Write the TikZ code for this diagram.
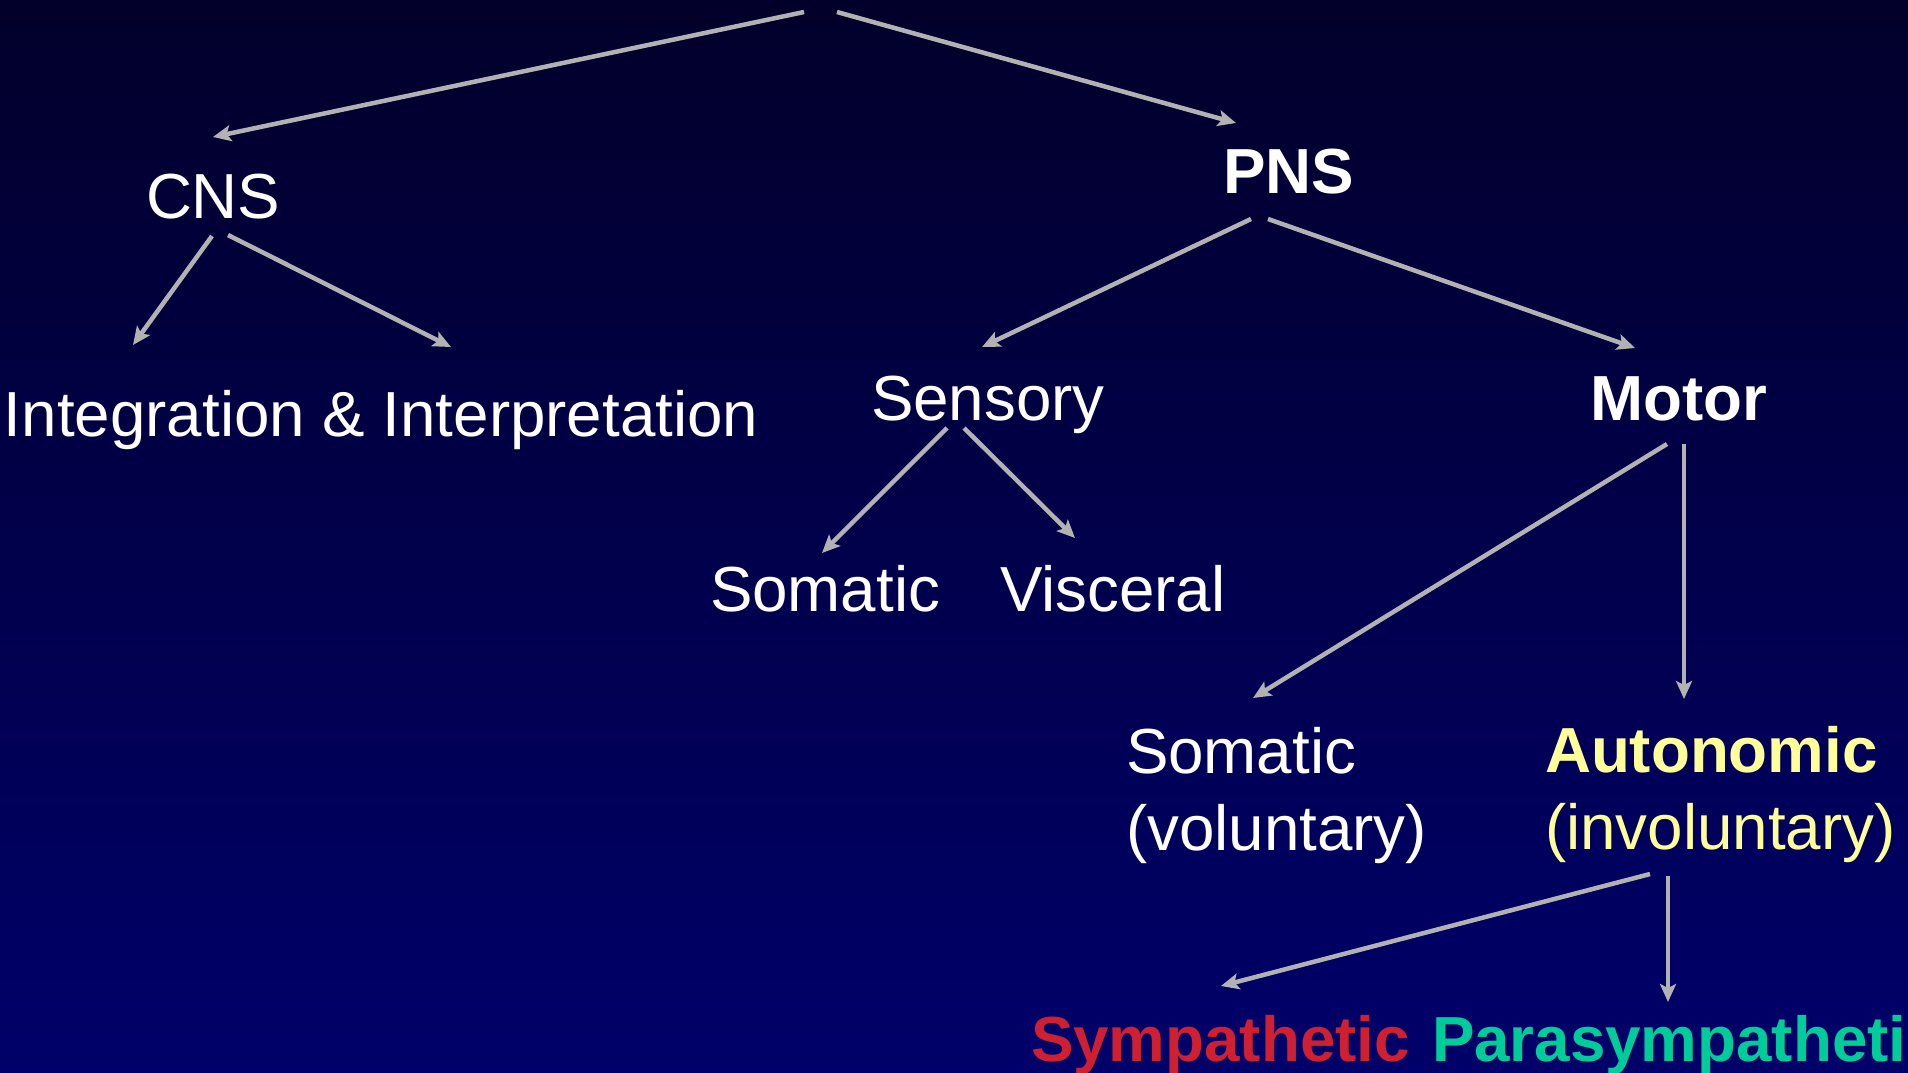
\documentclass[tikz,border=0pt]{standalone}
\usepackage{fontspec}
\setmainfont{Liberation Sans}
\usetikzlibrary{arrows.meta}
\definecolor{bgtop}{RGB}{2,0,42}
\definecolor{bgbot}{RGB}{0,0,106}
\definecolor{arrgray}{RGB}{178,178,178}
\definecolor{autoyellow}{RGB}{255,255,153}
\definecolor{symred}{RGB}{206,32,48}
\definecolor{paragreen}{RGB}{0,204,153}
\tikzset{
  lbl/.style={anchor=base west, inner sep=0pt, outer sep=0pt, text=white, font=\fontsize{63.7}{77}\selectfont},
  lblb/.style={lbl, font=\fontsize{63.7}{77}\selectfont\bfseries},
  two/.style={align=left},
  arr/.style={draw=arrgray, line width=4.5pt, -{Stealth[length=18pt,width=16pt,inset=4pt]}}
}
\begin{document}
\begin{tikzpicture}[x=1pt,y=-1pt]
\useasboundingbox (0,0) rectangle (1908,1072);
\clip (0,0) rectangle (1908,1072);
\shade[top color=bgtop, bottom color=bgbot] (0,0) rectangle (1908,1072);

% text nodes
\node[lbl] (cns) at (146,218) {CNS};
\node[lblb] (pns) at (1223,193) {PNS};
\node[lbl] (integ) at (4,436) {Integration \& Interpretation};
\node[lbl] (sens) at (871,420) {Sensory};
\node[lblb] (motor) at (1590,420) {Motor};
\node[lbl] (ssom) at (710,611) {Somatic};
\node[lbl] (visc) at (1000,611) {Visceral};
\node[lbl, two] (msom) at (1126,850) {Somatic\\(voluntary)};
\node[lbl, two, text=autoyellow] (auto) at (1545,849) {\textbf{Autonomic}\\(involuntary)};
\node[lblb, text=symred] (symp) at (1031,1061) {Sympathetic};
\node[lblb, text=paragreen] (para) at (1432,1061) {Parasympatheti};

% connector end points
\coordinate (rootL) at (804,12);
\coordinate (rootR) at (837,12);
\coordinate (cnsIn) at (213,137);
\coordinate (pnsIn) at (1236,123);
\coordinate (cnsA) at (212,236);
\coordinate (cnsB) at (228,235);
\coordinate (integA) at (133,345);
\coordinate (integB) at (451,347);
\coordinate (pnsA) at (1251,219);
\coordinate (pnsB) at (1268,219);
\coordinate (sensIn) at (982,347);
\coordinate (motorIn) at (1635,348);
\coordinate (sensA) at (947,428);
\coordinate (sensB) at (964,428);
\coordinate (ssomIn) at (822,553);
\coordinate (viscIn) at (1075,538);
\coordinate (motorA) at (1667,444);
\coordinate (motorB) at (1684,444);
\coordinate (msomIn) at (1253,698);
\coordinate (autoIn) at (1684,699);
\coordinate (autoA) at (1650,874);
\coordinate (autoB) at (1668,876);
\coordinate (sympIn) at (1221,986);
\coordinate (paraIn) at (1668,1002);

% connectors
\draw[arr] (rootL) -- (cnsIn);
\draw[arr] (rootR) -- (pnsIn);
\draw[arr] (cnsA) -- (integA);
\draw[arr] (cnsB) -- (integB);
\draw[arr] (pnsA) -- (sensIn);
\draw[arr] (pnsB) -- (motorIn);
\draw[arr] (sensA) -- (ssomIn);
\draw[arr] (sensB) -- (viscIn);
\draw[arr] (motorA) -- (msomIn);
\draw[arr] (motorB) -- (autoIn);
\draw[arr] (autoA) -- (sympIn);
\draw[arr] (autoB) -- (paraIn);
\end{tikzpicture}
\end{document}
